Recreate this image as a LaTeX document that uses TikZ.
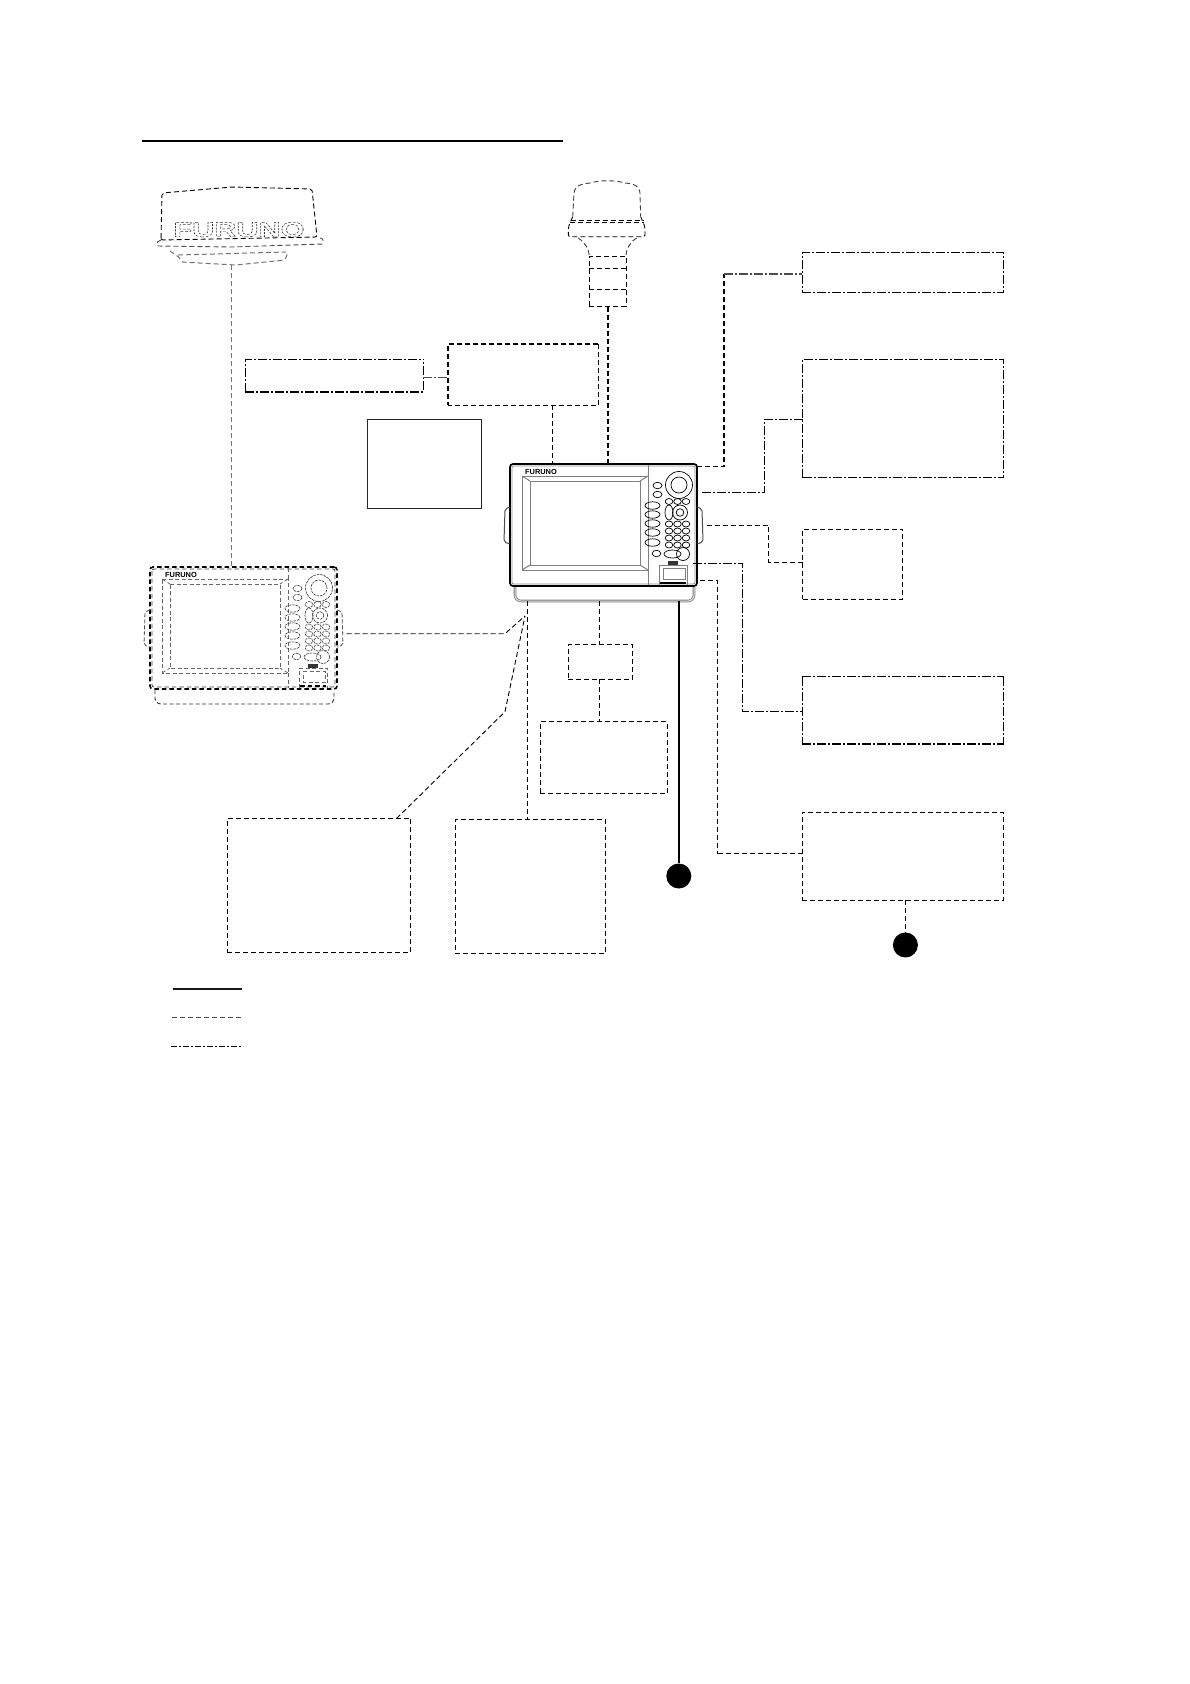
\documentclass[tikz,border=0pt]{standalone}
\usepackage{fontspec}
\setmainfont{Liberation Sans}
\tikzset{
  thinline/.style={line width=0.9pt,draw=black},
  dashthin/.style={thinline,dash pattern=on 5pt off 3pt},
  dashgray/.style={line width=1pt,draw=black!55,dash pattern=on 5pt off 3pt},
  dashheavy/.style={line width=1.7pt,draw=black,dash pattern=on 5pt off 3pt},
  dotdash/.style={thinline,dash pattern=on 9pt off 2pt on 2pt off 2pt},
  dotdashheavy/.style={line width=1.6pt,draw=black,dash pattern=on 9pt off 2pt on 2pt off 2pt},
  bxbase/.style={rectangle,inner sep=0pt,outer sep=0pt,anchor=north west},
  bullet/.style={circle,fill=black,draw=none,inner sep=0pt,minimum size=25pt},
  solidunit/.style={
    uouter/.style={line width=1.7pt,draw=black},
    uinner/.style={line width=0.7pt,draw=black!45},
    ubezel/.style={line width=1pt,draw=black!50},
    ubtn/.style={line width=0.7pt,draw=black},
    uhandle/.style={line width=1pt,draw=black!70},
    ubrack/.style={line width=0.8pt,draw=black!50,double=black!15,double distance=1pt}},
  dashunit/.style={
    uouter/.style={line width=1.6pt,draw=black,dash pattern=on 4.5pt off 3pt},
    uinner/.style={line width=0.8pt,draw=black!75,dash pattern=on 4.5pt off 3pt},
    ubezel/.style={line width=0.8pt,draw=black!60,dash pattern=on 4pt off 2.5pt},
    ubtn/.style={line width=0.6pt,draw=black!80,dash pattern=on 2.5pt off 1pt},
    uhandle/.style={line width=0.8pt,draw=black!70,dash pattern=on 4pt off 2pt},
    ubrack/.style={line width=0.9pt,draw=black!80,dash pattern=on 4pt off 2.5pt}}
}
\newcommand\bx[6]{%
  \pgfmathsetmacro\bxw{#4-#2}\pgfmathsetmacro\bxh{#5-#3}%
  \node[bxbase,#6,minimum width=\bxw pt,minimum height=\bxh pt] (#1) at (#2,#3) {};}
\newcommand\unitface[1]{%
  \node[rectangle,inner sep=0pt,outer sep=0pt,uouter,rounded corners=3pt,minimum width=187pt,minimum height=122pt] (#1) at (603.5,525) {};
  \draw[uinner,rounded corners=2pt] (512,466) rectangle (695,584);
  \draw[uhandle,rounded corners=2pt] (510,507) -- (505,509) -- (504,542) -- (510,544);
  \draw[uhandle,rounded corners=2pt] (697,507) -- (702,509) -- (703,542) -- (697,544);
  \draw[ubrack,rounded corners=6pt] (515,587) -- (515,601) -- (694,601) -- (694,587);
  \draw[ubezel] (522,476) -- (648,476) -- (648,570) -- (522,570) -- cycle;
  \draw[ubezel] (530,481) -- (640,481) -- (640,565) -- (530,565) -- cycle;
  \draw[ubezel] (522,476) -- (530,481) (648,476) -- (640,481) (522,570) -- (530,565) (648,570) -- (640,565);
  \draw[ubezel] (648,465) -- (648,476) (648,570) -- (648,585);
  \node[font=\bfseries\fontsize{7.4}{8}\selectfont,inner sep=0pt] (#1logo) at (541,472) {FURUNO};
  \draw[ubtn] (679,485) circle (13.5pt) (679,485) circle (8pt);
  \foreach \yy in {485.5,494.5} \draw[ubtn] (657.5,\yy) ellipse (4.5pt and 3.2pt);
  \foreach \yy in {505.5,514.5,523.5,532.5,542.5} \draw[ubtn] (652.5,\yy) ellipse (7.5pt and 3.7pt);
  \foreach \xx in {669,677.5,686} \draw[ubtn] (\xx,501.5) ellipse (3.8pt and 3pt);
  \draw[ubtn] (669,512.5) ellipse (4pt and 7.5pt);
  \draw[ubtn] (680,512.5) circle (7.5pt) (680,512.5) circle (3.8pt);
  \foreach \yy in {524,531,538,545} \foreach \xx in {669,677.5,686} \draw[ubtn] (\xx,\yy) ellipse (3.8pt and 3pt);
  \draw[ubtn] (672.5,554) ellipse (8.5pt and 4pt);
  \draw[ubtn] (683,554) circle (6.5pt);
  \draw[ubtn] (656.5,553.5) ellipse (4.3pt and 3.2pt);
  \fill[black!80] (668,561) rectangle (678,565);
  \draw[ubezel] (659,565) -- (687,565) -- (687,585) (659,585) -- (659,565);
  \draw[ubezel] (663,568) -- (685,568) -- (685,579) -- (663,579) -- cycle;
  \draw[uouter] (660,583) -- (686,583);
}
\begin{document}
\begin{tikzpicture}[x=1pt,y=-1pt]
\useasboundingbox (0,0) rectangle (1190,1684);
\fill[white] (0,0) rectangle (1190,1684);

% title rule
\coordinate (ruleL) at (142,140.5); \coordinate (ruleR) at (563,140.5);
\draw[line width=2pt,black] (ruleL) -- (ruleR);

% radome
\node[bxbase,anchor=center,inner sep=0pt] (radomeLogo) at (239,229.5)
  {\scalebox{1.46}[1]{\special{pdf:code q 1 Tr 0.45 w 0.2 G [2 1.2] 0 d}\bfseries\fontsize{21}{21}\selectfont FURUNO\special{pdf:code Q}}};
\draw[dashthin,rounded corners=2pt] (161,240) -- (162,193) -- (232,187) -- (312,189) -- (317,237) -- cycle;
\draw[dashthin,draw=black!70,rounded corners=1pt] (161,240) -- (157,242) -- (157,246) -- (232,247) -- (323,244) -- (323,239) -- (317,237);
\draw[dashgray,rounded corners=2pt] (170,251) -- (180,258) -- (181,262) -- (236,265) -- (285,260) -- (288,252);
\draw[dashgray] (178,255) -- (286,252);
\coordinate (radomeBot) at (231.7,265);

% GPS antenna
\node[inner sep=0pt,outer sep=0pt,minimum width=36.7pt,minimum height=50pt,dashthin] (gpsbody) at (607.65,281.7) {};
\draw[dashthin] (gpsbody.west |- 0,268.3) -- (gpsbody.east |- 0,268.3);
\draw[dashthin] (gpsbody.west |- 0,289.5) -- (gpsbody.east |- 0,289.5);
\draw[dashthin,draw=black!75] (572.7,216.7) -- (574,193) .. controls (575,186) and (580,184) .. (590,183) .. controls (600,180) and (615,180) .. (625,183) .. controls (635,184) and (639,186) .. (640,193) -- (640.7,216.7);
\draw[dashthin,rounded corners=2pt] (572.7,216.7) -- (568.3,227) -- (568.3,236.7) -- (645,236.7) -- (645,227) -- (640.7,216.7);
\draw[dashthin] (571,220) -- (644,220);
\draw[dashthin] (570,222.5) -- (644,222.5);
\draw[dashthin,draw=black!75] (578,238) .. controls (585,242) and (589,249) .. (589.3,256.7);
\draw[dashthin,draw=black!75] (636.7,238) .. controls (630,242) and (626,249) .. (626,256.7);

% boxes
\bx{bA}{245.3}{359.3}{423.3}{392}{}
\draw[dotdash] (bA.south west) -- (bA.north west) -- (bA.north east);
\draw[dotdashheavy] (bA.south west) -- (bA.south east) -- (bA.north east);
\bx{bB}{448}{344}{598.3}{405.3}{}
\draw[dashheavy,line width=1.3pt] (bB.north east) -- (bB.north west) -- (bB.south west);
\draw[dashthin] (bB.north east) -- (bB.south east) -- (bB.south west);
\bx{bC}{367.3}{419.3}{481.7}{508.3}{draw=black!85,line width=1pt}
\bx{bD}{802}{252.7}{1003.7}{292.3}{dotdash}
\bx{bE}{802.7}{359.3}{1003.7}{477.7}{dotdash}
\bx{bF}{802.7}{529.3}{902.7}{599.3}{dashthin}
\bx{bG}{802}{676.7}{1003.7}{744}{}
\draw[dotdash] (bG.north west) -- (bG.south west) (bG.north east) -- (bG.south east);
\draw[dotdashheavy,line width=1.4pt] (bG.north west) -- (bG.north east) (bG.south west) -- (bG.south east);
\bx{bH}{802}{812}{1003.7}{900}{dashthin}
\bx{bI}{568}{644.4}{632.6}{679}{dashthin}
\bx{bJ}{540}{721.7}{667}{793.8}{dashthin}
\bx{bK}{227.3}{818.3}{410.7}{952.7}{dashthin}
\bx{bL}{455.3}{819.3}{605.3}{953.7}{dashthin}

% display units
\begin{scope}[solidunit]\unitface{mainu}\end{scope}
\begin{scope}[dashunit,shift={(-360,103)}]\unitface{secu}\end{scope}

% bullets
\node[bullet] (bul1) at (678.8,876) {};
\node[bullet] (bul2) at (905.4,945) {};

% connector ends on the unit
\coordinate (cDs) at (697,466.7);
\coordinate (cEs) at (702,492.3);
\coordinate (cFs) at (706.7,525.3);
\coordinate (cGs) at (693,563.3);
\coordinate (cHs) at (700,580.7);
\coordinate (cIs) at (599.3,601);
\coordinate (cLs) at (527.7,601);
\coordinate (cBul) at (678.8,601);
\coordinate (cSec) at (346.7,633.7);
\coordinate (cMeet) at (525,616);

% connectors
\draw[dashgray] (radomeBot) -- (radomeBot |- secu.north);
\draw[dotdash,draw=black!70] (bA.east |- 0,377) -- (bB.west |- 0,377);
\draw[dashthin] (bB.south -| 552.3,0) -- (mainu.north -| 552.3,0);
\draw[dashheavy] (gpsbody.south) -- (gpsbody.south |- mainu.north);
\draw[dashheavy,line width=1.4pt] (cDs) -- (724,466.7) -- (724,274);
\draw[dotdash,draw=black!70,line width=1.1pt] (724,274) -- (bD.west |- 0,274);
\draw[dotdash] (cEs) -- (764.3,492.3) -- (764.3,419.3) -- (bE.west |- 0,419.3);
\draw[dashthin] (cFs) -- (768.7,525.3) -- (768.7,562.3) -- (bF.west |- 0,562.3);
\draw[dotdash] (cGs) -- (742.3,563.3) -- (742.3,711) -- (bG.west |- 0,711);
\draw[dashheavy,line width=1.3pt] (cHs) -- (717.7,580.7) -- (717.7,853.8);
\draw[dashthin] (717.7,853.8) -- (bH.west |- 0,853.8);
\draw[thinline,line width=1.7pt] (cBul) -- (bul1.north);
\draw[dashthin] (bH.south -| bul2.north) -- (bul2.north);
\draw[dashthin] (cIs) -- (bI.north -| cIs);
\draw[dashthin] (bI.south -| cIs) -- (bJ.north -| cIs);
\draw[dashthin] (cLs) -- (bL.north -| cLs);
\draw[dashthin] (cSec) -- (505,633.7) -- (cMeet);
\draw[dashthin] (bK.north -| 396.7,0) -- (505,711.7) -- (cMeet);

% legend
\coordinate (l1a) at (173,989); \coordinate (l1b) at (242,989);
\coordinate (l2a) at (172,1017.7); \coordinate (l2b) at (242,1017.7);
\coordinate (l3a) at (171,1046); \coordinate (l3b) at (243,1046);
\draw[line width=1.1pt,black!90] (l1a) -- (l1b);
\draw[dashthin,line width=1.4pt,draw=black!70] (l2a) -- (l2b);
\draw[dotdash,line width=0.7pt,dash pattern=on 6pt off 2pt on 2pt off 2pt] (l3a) -- (l3b);
\end{tikzpicture}
\end{document}
